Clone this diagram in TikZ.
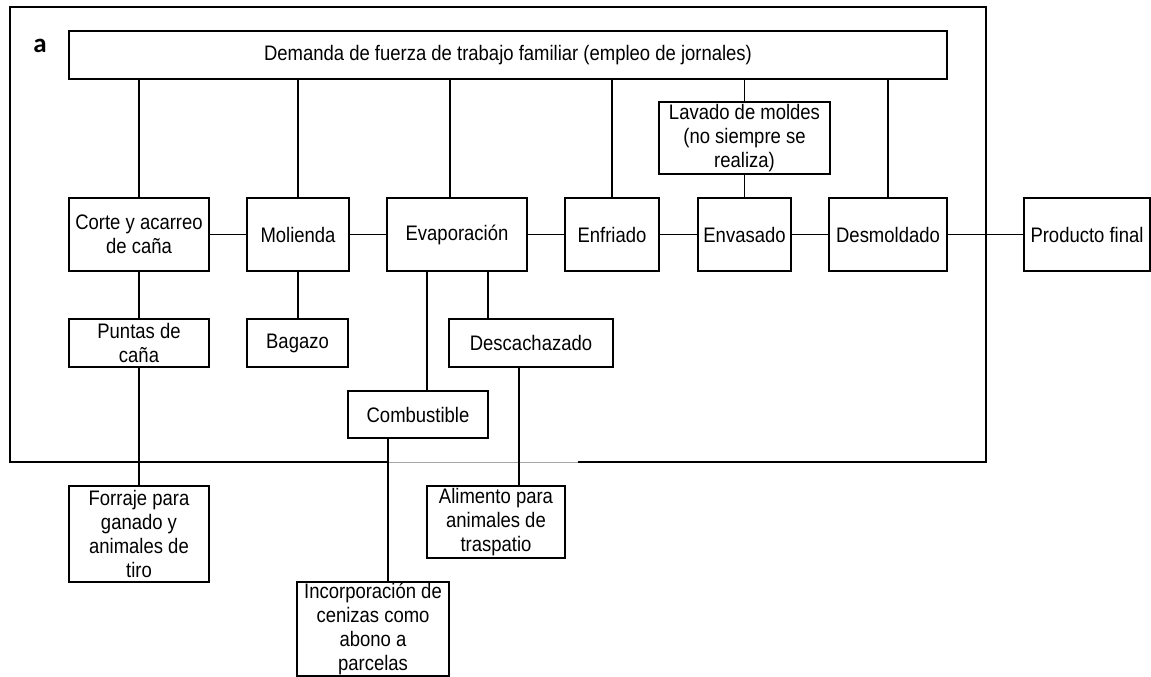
\documentclass[tikz,border=0pt]{standalone}
\usepackage{fontspec}
\setmainfont[FakeStretch=0.88]{Liberation Sans}
\newfontfamily\labelfont{Carlito}
\tikzset{
  caja/.style={draw, line width=1.2pt, fill=white, inner sep=0pt, align=center,
    font=\fontsize{21}{24}\selectfont},
  linea/.style={line width=1.2pt}
}
\begin{document}
\begin{tikzpicture}[x=1pt,y=-1pt]
  \fill[white] (0,0) rectangle (1151,677);
  \useasboundingbox (0,0) rectangle (1151,677);
  % marco
  \draw[linea] (388,462) -- (10,462) -- (10,7) -- (986,7) -- (986,462) -- (578,462);
  \draw[gray!70, line width=0.8pt] (388,462) -- (578,462);
  \node[font=\labelfont\bfseries\fontsize{27}{30}\selectfont] (a) at (40,46) {a};

  \node[caja, minimum width=878, minimum height=48] (dem) at (508,55) {Demanda de fuerza de trabajo familiar (empleo de jornales)};
  \node[caja, minimum width=140, minimum height=73] (corte) at (139,234.5) {Corte y acarreo\\de caña};
  \node[caja, minimum width=102, minimum height=73] (mol) at (298,234.5) {Molienda};
  \node[caja, minimum width=140, minimum height=73] (evap) at (457,234.5) {Evaporación};
  \node[caja, minimum width=94, minimum height=73] (enf) at (612,234.5) {Enfriado};
  \node[caja, minimum width=93, minimum height=73] (env) at (744.5,234.5) {Envasado};
  \node[caja, minimum width=118, minimum height=73] (desm) at (888,234.5) {Desmoldado};
  \node[caja, minimum width=126, minimum height=73] (prod) at (1087,234.5) {Producto final};
  \node[caja, minimum width=171, minimum height=72] (lav) at (744.5,138) {Lavado de moldes\\(no siempre se\\realiza)};
  \node[caja, minimum width=140, minimum height=48] (puntas) at (139,343) {Puntas de\\caña};
  \node[caja, minimum width=101, minimum height=48] (bagazo) at (297.5,343) {Bagazo};
  \node[caja, minimum width=164, minimum height=48] (desc) at (531,343) {Descachazado};
  \node[caja, minimum width=140, minimum height=47] (comb) at (418,414.5) {Combustible};
  \node[caja, minimum width=140, minimum height=96] (forraje) at (139,534) {Forraje para\\ganado y\\animales de\\tiro};
  \node[caja, minimum width=138, minimum height=72] (alim) at (496,522) {Alimento para\\animales de\\traspatio};
  \node[caja, minimum width=152, minimum height=94] (incorp) at (373,629) {Incorporación de\\cenizas como\\abono a\\parcelas};

  % demanda de trabajo
  \draw[linea] (corte.north) -- (corte.north |- dem.south);
  \draw[linea] (mol.north) -- (mol.north |- dem.south);
  \draw[linea] ([xshift=-7pt]evap.north) -- ([xshift=-7pt]evap.north |- dem.south);
  \draw[linea] (enf.north) -- (enf.north |- dem.south);
  \draw[linea] (lav.north) -- (lav.north |- dem.south);
  \draw[linea] (env.north) -- (lav.south);
  \draw[linea] (desm.north) -- (desm.north |- dem.south);

  % proceso
  \draw[linea] (corte) -- (mol) -- (evap) -- (enf) -- (env) -- (desm) -- (prod);

  % subproductos
  \draw[linea] (corte.south) -- (puntas.north);
  \draw[linea] (puntas.south) -- (forraje.north);
  \draw[linea] (mol.south) -- (mol.south |- bagazo.north);
  \draw[linea] ([xshift=-30pt]evap.south) -- ([xshift=-30pt]evap.south |- comb.north);
  \draw[linea] ([xshift=31pt]evap.south) -- ([xshift=31pt]evap.south |- desc.north);
  \draw[linea] ([xshift=-12pt]desc.south) -- ([xshift=-12pt]desc.south |- alim.north);
  \draw[linea] ([xshift=-30pt]comb.south) -- ([xshift=-30pt]comb.south |- incorp.north);
\end{tikzpicture}
\end{document}
